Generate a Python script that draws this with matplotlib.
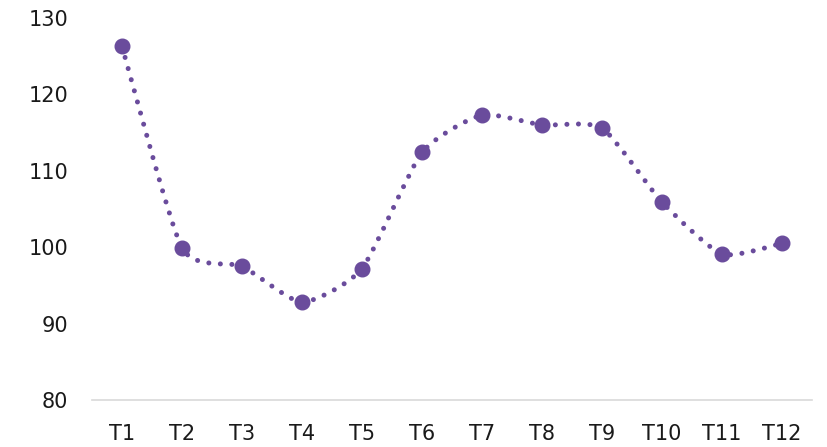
import numpy as np
import matplotlib.pyplot as plt
from matplotlib.path import Path
from matplotlib.patches import PathPatch

categorie = ["T1", "T2", "T3", "T4", "T5", "T6", "T7", "T8", "T9", "T10", "T11", "T12"]
valori = [126.3, 99.9, 97.5, 92.8, 97.2, 112.4, 117.3, 116.0, 115.6, 105.9, 99.1, 100.5]

colore = "#6a4c9c"

fig = plt.figure(figsize=(8.28, 4.47), dpi=100)
ax = fig.add_axes([92 / 828, 1 - 400 / 447, 720 / 828, 382 / 447])

x = np.arange(len(valori))
y = np.array(valori)

# linea smussata tipo Excel (Bezier con tensione ridotta)
k = 10
verts = [(x[0], y[0])]
codes = [Path.MOVETO]
for i in range(len(x) - 1):
    p0 = np.array([x[max(i - 1, 0)], y[max(i - 1, 0)]])
    p1 = np.array([x[i], y[i]])
    p2 = np.array([x[i + 1], y[i + 1]])
    p3 = np.array([x[min(i + 2, len(x) - 1)], y[min(i + 2, len(x) - 1)]])
    c1 = p1 + (p2 - p0) / k
    c2 = p2 - (p3 - p1) / k
    verts += [tuple(c1), tuple(c2), tuple(p2)]
    codes += [Path.CURVE4] * 3

patch = PathPatch(Path(verts, codes), fill=False, edgecolor=colore, lw=3.6,
                  linestyle=(0, (0.01, 2.3)), capstyle="round", zorder=2)
ax.add_patch(patch)
ax.plot(x, y, linestyle="none", marker="o", markersize=10.5, color=colore, zorder=3)

ax.set_xlim(-0.5, 11.5)
ax.set_ylim(80, 130)
ax.set_yticks([80, 90, 100, 110, 120, 130])
ax.set_xticks(x)
ax.set_xticklabels(categorie)

for s in ["top", "right", "left"]:
    ax.spines[s].set_visible(False)
ax.spines["bottom"].set_color("#d9d9d9")
ax.spines["bottom"].set_linewidth(1.2)
ax.tick_params(axis="both", length=0, labelsize=15, colors="#1a1a1a")
ax.tick_params(axis="y", pad=17)
ax.tick_params(axis="x", pad=17)

plt.savefig("out.png", dpi=100)
